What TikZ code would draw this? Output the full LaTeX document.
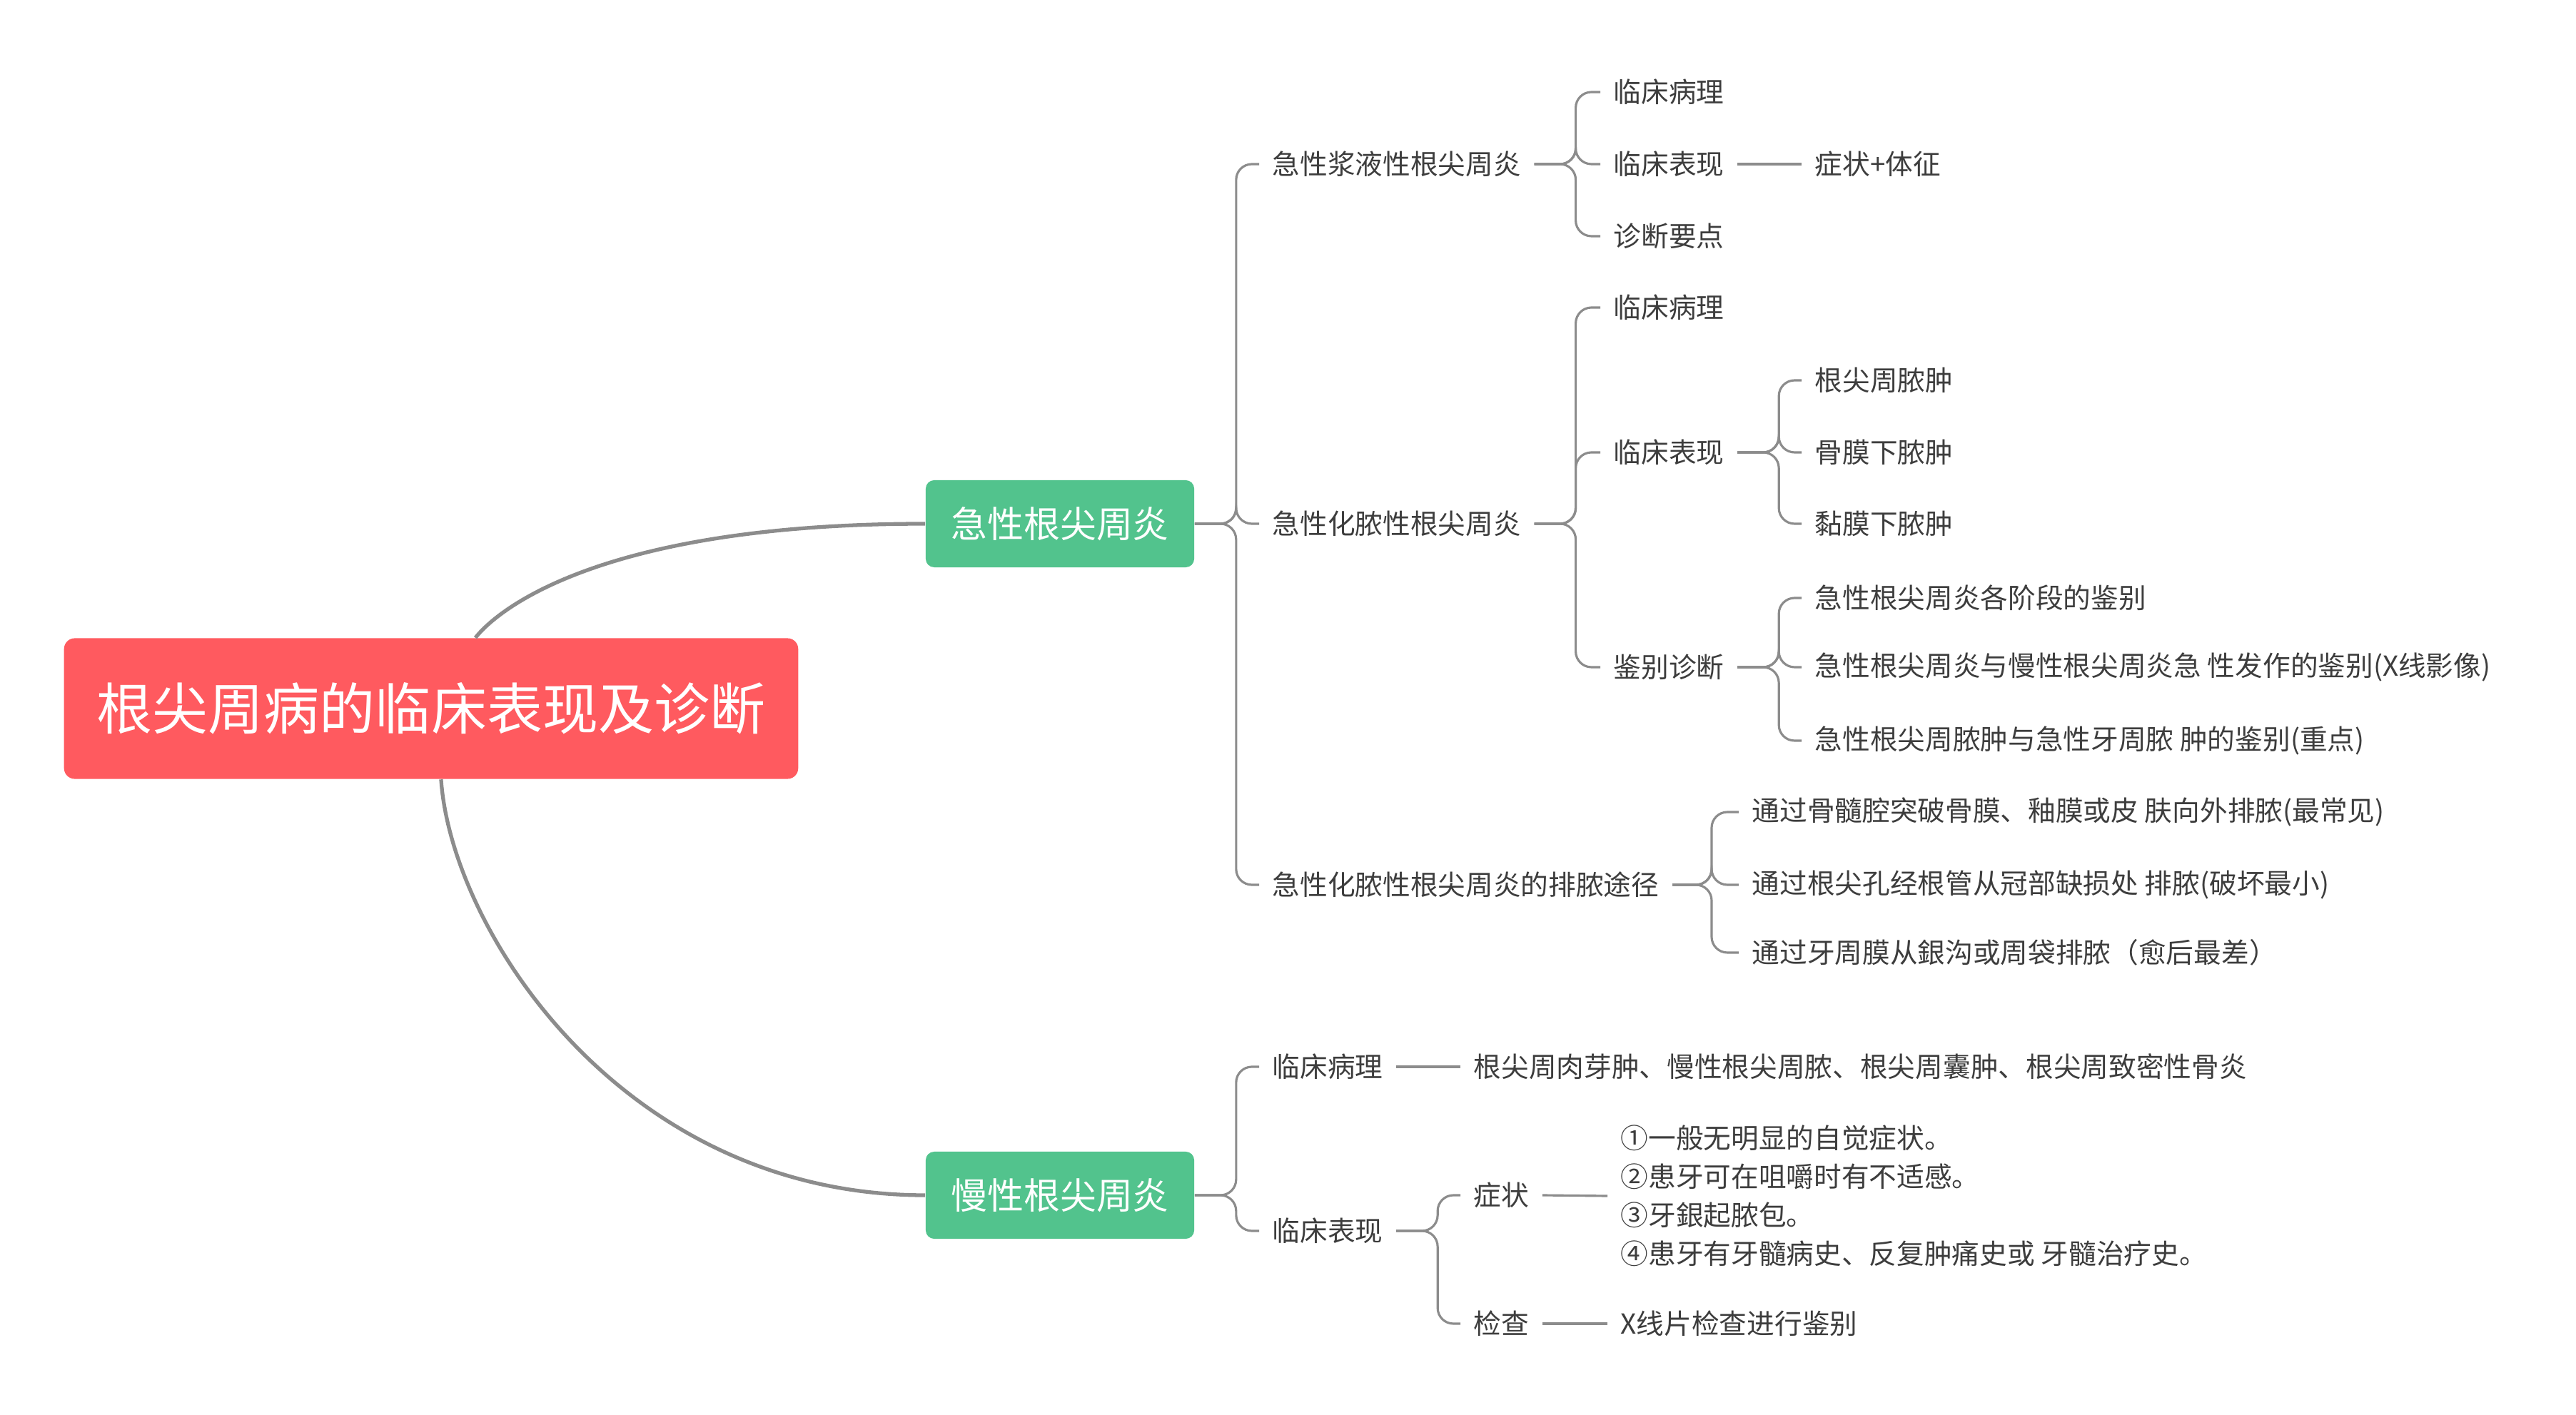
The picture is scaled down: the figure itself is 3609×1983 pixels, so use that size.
\documentclass[tikz,border=0pt]{standalone}
\usepackage{fontspec}
\setmainfont{Noto Sans CJK SC}
\usetikzlibrary{positioning}
\definecolor{rootred}{HTML}{FF5A5F}
\definecolor{topicgreen}{HTML}{52C38D}
\definecolor{linegray}{HTML}{8C8C8C}
\definecolor{txtgray}{HTML}{3D3D3D}

\tikzset{
  root/.style={fill=rootred, text=white, rounded corners=0.15cm, minimum width=10.28cm, minimum height=1.97cm, font=\fontsize{22.2}{26}\selectfont},
  topic/.style={fill=topicgreen, text=white, rounded corners=0.12cm, minimum width=3.76cm, minimum height=1.22cm, font=\fontsize{14.5}{17}\selectfont},
  item/.style={anchor=west, inner xsep=0.18cm, inner ysep=0.04cm, text=txtgray, font=\fontsize{11}{13}\selectfont},
  trunk/.style={linegray, line width=1.5pt},
  branch/.style={linegray, line width=0.9pt, rounded corners=0.22cm},
}

\begin{document}
\begin{tikzpicture}[x=0.01cm, y=-0.01cm]
    \useasboundingbox (0,0) rectangle (3609,1983);

    % Root and main topics
    \node[root] (root) at (604,993) {根尖周病的临床表现及诊断};
    \node[topic] (acute) at (1485,734) {急性根尖周炎};
    \node[topic] (chronic) at (1485,1675) {慢性根尖周炎};
    \draw[trunk] (root.58) .. controls +(34,-43) and +(-447,0) .. (acute.west);
    \draw[trunk] (root.-82) .. controls +(14,210) and +(-425,0) .. (chronic.west);

    % Acute branches
    \foreach \n/\y/\t in {serous/230/急性浆液性根尖周炎, purulent/734/急性化脓性根尖周炎, drain/1240/急性化脓性根尖周炎的排脓途径} {
        \node[item] (\n) at (1764,\y) {\t};
        \draw[branch] (acute.east) -- ++(58,0) |- (\n.west);
    }

    % Serous periapicitis
    \foreach \n/\y/\t in {1/129/临床病理, 2/230/临床表现, 3/331/诊断要点} {
        \node[item] (serous\n) at (2242,\y) {\t};
        \draw[branch] (serous.east) -- ++(58,0) |- (serous\n.west);
    }
    \node[item] (serous2a) at (2524,230) {症状+体征};
    \draw[branch] (serous2.east) -- (serous2a.west);

    % Purulent periapicitis
    \foreach \n/\y/\t in {1/431/临床病理, 2/634/临床表现, 3/935/鉴别诊断} {
        \node[item] (purulent\n) at (2242,\y) {\t};
        \draw[branch] (purulent.east) -- ++(58,0) |- (purulent\n.west);
    }
    \foreach \n/\y/\t in {a/533/根尖周脓肿, b/634/骨膜下脓肿, c/734/黏膜下脓肿} {
        \node[item] (stage\n) at (2524,\y) {\t};
        \draw[branch] (purulent2.east) -- ++(58,0) |- (stage\n.west);
    }
    \foreach \n/\y/\t in {a/838/{急性根尖周炎各阶段的鉴别}, b/935/{急性根尖周炎与慢性根尖周炎急 性发作的鉴别(X线影像)}, c/1038/{急性根尖周脓肿与急性牙周脓 肿的鉴别(重点)}} {
        \node[item] (diff\n) at (2524,\y) {\t};
        \draw[branch] (purulent3.east) -- ++(58,0) |- (diff\n.west);
    }

    % Drainage routes
    \foreach \n/\y/\t in {a/1138/{通过骨髓腔突破骨膜、釉膜或皮 肤向外排脓(最常见)}, b/1240/{通过根尖孔经根管从冠部缺损处 排脓(破坏最小)}, c/1335/{通过牙周膜从銀沟或周袋排脓（愈后最差）}} {
        \node[item] (route\n) at (2436,\y) {\t};
        \draw[branch] (drain.east) -- ++(55,0) |- (route\n.west);
    }

    % Chronic branches
    \foreach \n/\y/\t in {path/1495/临床病理, sign/1725/临床表现} {
        \node[item] (chr\n) at (1764,\y) {\t};
        \draw[branch] (chronic.east) -- ++(58,0) |- (chr\n.west);
    }
    \node[item] (pathtext) at (2046,1495) {根尖周肉芽肿、慢性根尖周脓、根尖周囊肿、根尖周致密性骨炎};
    \draw[branch] (chrpath.east) -- (pathtext.west);

    \foreach \n/\y/\t in {sym/1675/症状, exam/1855/检查} {
        \node[item] (\n) at (2046,\y) {\t};
        \draw[branch] (chrsign.east) -- ++(58,0) |- (\n.west);
    }
    \node[item, align=left, font=\fontsize{11}{15.4}\selectfont] (symtext) at (2252,1676) {①一般无明显的自觉症状。\\②患牙可在咀嚼时有不适感。\\③牙銀起脓包。\\④患牙有牙髓病史、反复肿痛史或 牙髓治疗史。};
    \draw[branch] (sym.east) -- (symtext.west);
    \node[item] (examtext) at (2252,1855) {X线片检查进行鉴别};
    \draw[branch] (exam.east) -- (examtext.west);
\end{tikzpicture}
\end{document}
